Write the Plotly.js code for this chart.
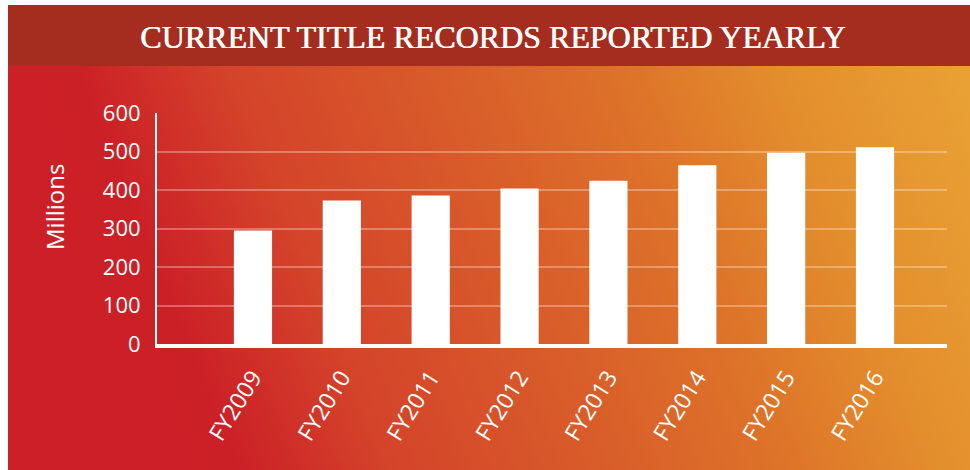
<!DOCTYPE html>
<html>
<head>
<meta charset="utf-8">
<script src="https://cdn.plot.ly/plotly-3.0.1.min.js"></script>
<style>
  html, body { margin: 0; padding: 0; background: #ffffff; }
  #bg {
    position: absolute; left: 8px; top: 5px; width: 962px; height: 465px;
    background:
      linear-gradient(#a52d1f, #a52d1f) top left / 100% 61px no-repeat,
      linear-gradient(68deg, #cc1f27 0%, #cc2027 20%, #d4442a 33.5%, #d85a2a 50%, #dd7229 67%, #e38e2d 81%, #eaa436 100%);
  }
  #chart { position: absolute; left: 0; top: 0; width: 970px; height: 470px; }
</style>
</head>
<body>
<div id="bg"></div>
<div id="chart"></div>
<script>
const categories = ["FY2009", "FY2010", "FY2011", "FY2012", "FY2013", "FY2014", "FY2015", "FY2016"];
const records = [295, 373, 386, 404, 424, 464, 497, 511];
const yTicks = [0, 100, 200, 300, 400, 500, 600];
const chartTitle = "CURRENT TITLE RECORDS REPORTED YEARLY";
const yLabel = "Millions";

const sans = "Open Sans, Lato, sans-serif";

const data = [{
  type: "bar",
  x: categories,
  y: records,
  width: 0.43,
  marker: { color: "#ffffff", line: { width: 0 } },
  hoverinfo: "none"
}];

const layout = {
  width: 970, height: 470,
  paper_bgcolor: "rgba(0,0,0,0)",
  plot_bgcolor: "rgba(0,0,0,0)",
  margin: { l: 157, r: 23, t: 113, b: 126, pad: 0 },
  showlegend: false,
  title: {
    text: chartTitle,
    font: { family: "Liberation Serif, DejaVu Serif, serif", size: 32, color: "#ffffff", weight: "normal",
            shadow: "0.7px 0 0 #ffffff" },
    x: 0.508, xanchor: "center", xref: "container",
    y: 1 - 37 / 470, yanchor: "middle", yref: "container"
  },
  xaxis: {
    type: "category",
    range: [-1.08, 7.81],
    tickangle: -58,
    tickfont: { family: sans, size: 23, color: "#ffffff" },
    ticks: "", ticklabelstandoff: 7,
    showgrid: false, zeroline: false,
    showline: true, linecolor: "#ffffff", linewidth: 4
  },
  yaxis: {
    range: [0, 600],
    tickvals: yTicks,
    ticktext: yTicks.map(String),
    tickfont: { family: sans, size: 22, color: "#ffffff" },
    ticks: "", ticklabelstandoff: 10,
    showgrid: true, gridcolor: "rgba(255,255,255,0.3)", gridwidth: 2,
    zeroline: false,
    showline: true, linecolor: "#ffffff", linewidth: 2
  },
  annotations: [{
    text: yLabel,
    xref: "paper", yref: "paper",
    x: (54 - 157) / 790, y: (344 - 207) / 231,
    xanchor: "center", yanchor: "middle",
    textangle: -90, showarrow: false,
    font: { family: sans, size: 24, color: "#ffffff" }
  }]
};

Plotly.newPlot("chart", data, layout, { displayModeBar: false, staticPlot: true });
</script>
</body>
</html>
